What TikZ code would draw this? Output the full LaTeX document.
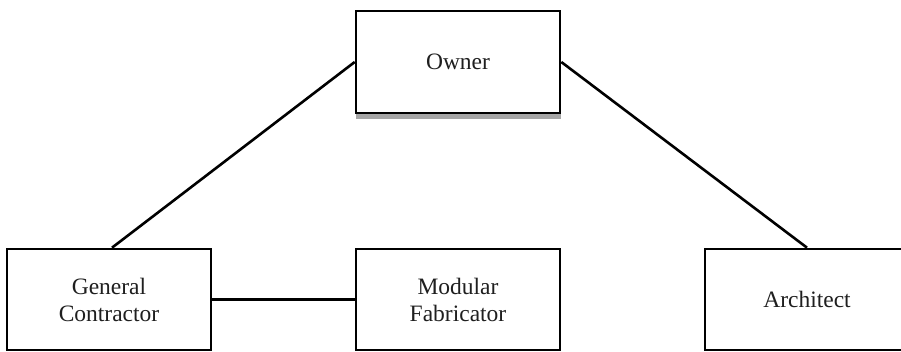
\documentclass[tikz,border=0pt]{standalone}
\usepackage{fontspec}
\setmainfont{Liberation Serif}
\begin{document}
\begin{tikzpicture}[x=1pt,y=-1pt,
  boxnode/.style={draw=black, line width=2.6pt, fill=white, rectangle,
    minimum width=204pt, minimum height=101pt, inner sep=0pt, align=center,
    text=black!88, font=\fontsize{23.5}{27}\selectfont},
  link/.style={line width=2.6pt, draw=black}]
\useasboundingbox (0,0) rectangle (901,351);
\clip (0,0) rectangle (901,351);
\fill[gray!70] (356,113) rectangle (561,119);
\node[boxnode, minimum height=102pt] (owner) at (458,62) {Owner};
\node[boxnode] (gc) at (109,299.5) {General\\Contractor};
\node[boxnode] (mf) at (458,299.5) {Modular\\Fabricator};
\node[boxnode] (arch) at (807,299.5) {Architect};
\draw[link] (owner.west) -- ([xshift=3pt]gc.north);
\draw[link] (owner.east) -- (arch.north);
\draw[link] (gc.east) -- (mf.west);
\end{tikzpicture}
\end{document}
